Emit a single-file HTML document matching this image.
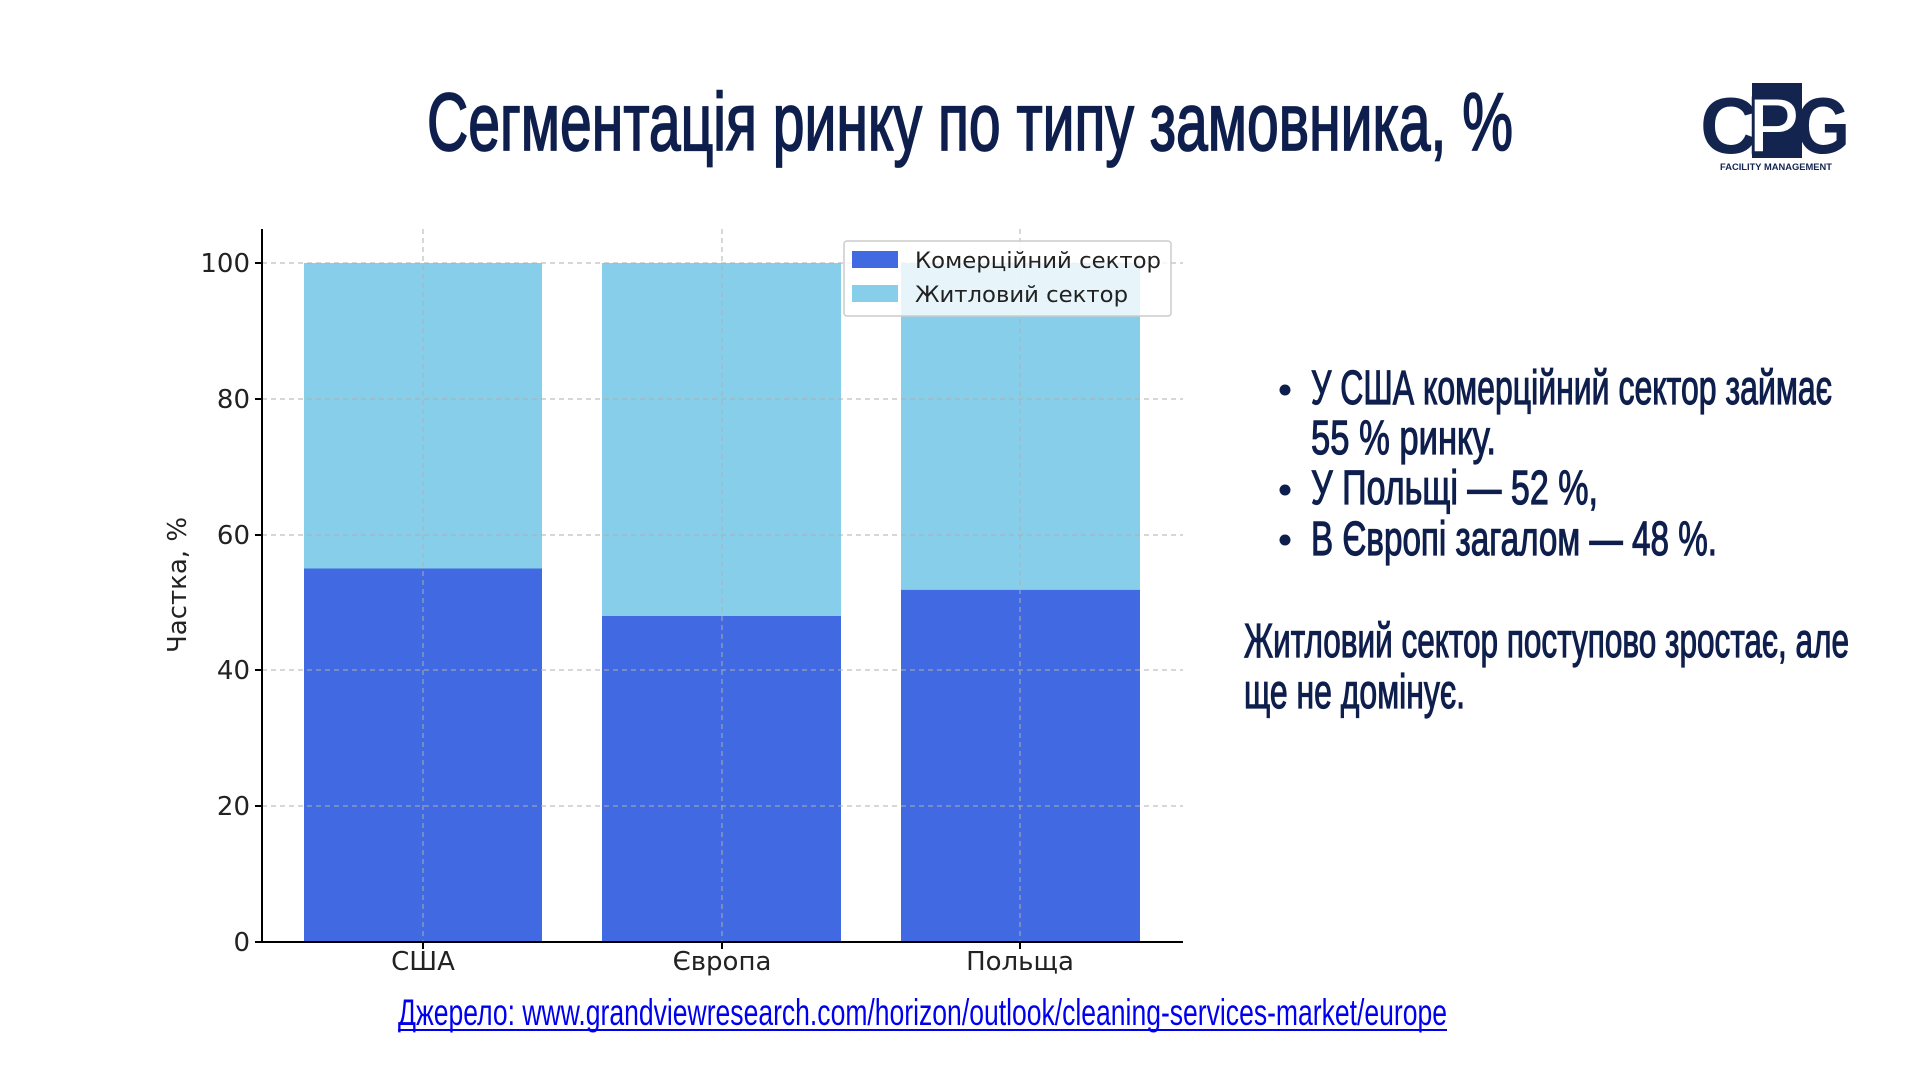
<!DOCTYPE html>
<html><head><meta charset="utf-8"><style>html,body{margin:0;padding:0;background:#fff}svg{display:block}</style></head><body>
<svg width="1920" height="1080" viewBox="0 0 1920 1080" xmlns="http://www.w3.org/2000/svg">
<rect width="1920" height="1080" fill="#fff"/>
<g font-family="Liberation Sans Narrow, Liberation Sans, sans-serif" fill="#0f1f4d" stroke="#0f1f4d">
<text x="427" y="150" font-size="82" stroke-width="1.8" textLength="1086" lengthAdjust="spacingAndGlyphs">Сегментація ринку по типу замовника, %</text>
<circle cx="1285" cy="390" r="5"/><circle cx="1285" cy="490" r="5"/><circle cx="1285" cy="540" r="5"/>
<g font-size="48" stroke-width="1.2">
<text x="1311" y="404" textLength="521" lengthAdjust="spacingAndGlyphs">У США комерційний сектор займає</text>
<text x="1311" y="454" textLength="185" lengthAdjust="spacingAndGlyphs">55 % ринку.</text>
<text x="1311" y="504" textLength="287" lengthAdjust="spacingAndGlyphs">У Польщі — 52 %,</text>
<text x="1311" y="555" textLength="406" lengthAdjust="spacingAndGlyphs">В Європі загалом — 48 %.</text>
<text x="1244" y="657" textLength="605" lengthAdjust="spacingAndGlyphs">Житловий сектор поступово зростає, але</text>
<text x="1244" y="708" textLength="221" lengthAdjust="spacingAndGlyphs">ще не домінує.</text>
</g>
</g>
<text x="398" y="1025" font-family="Liberation Sans Narrow, Liberation Sans, sans-serif" font-size="37" fill="#0000ee" textLength="1049" lengthAdjust="spacingAndGlyphs">Джерело: www.grandviewresearch.com/horizon/outlook/cleaning-services-market/europe</text>
<line x1="398" y1="1030" x2="1447" y2="1030" stroke="#0000ee" stroke-width="2"/>
<!-- logo -->
<g fill="#13244f" font-family="Liberation Sans, sans-serif" font-weight="bold">
<rect x="1752" y="83" width="50" height="85"/>
<text x="1700" y="153" font-size="80" textLength="58" lengthAdjust="spacingAndGlyphs">C</text>
<text x="1748" y="153" font-size="80" fill="#fff" stroke="#13244f" stroke-width="3" textLength="52" lengthAdjust="spacingAndGlyphs">P</text>
<text x="1796" y="153" font-size="80" textLength="54" lengthAdjust="spacingAndGlyphs">G</text>
<rect x="1718" y="158" width="116" height="14" fill="#fff"/>
<text x="1720" y="170" font-size="9" textLength="112" lengthAdjust="spacingAndGlyphs">FACILITY MANAGEMENT</text>
</g>
<!-- chart -->
<g>
<rect x="304" y="263" width="238" height="305.5" fill="#87ceeb"/>
<rect x="304" y="568.5" width="238" height="373.5" fill="#4169e1"/>
<rect x="602" y="263" width="239" height="353" fill="#87ceeb"/>
<rect x="602" y="616" width="239" height="326" fill="#4169e1"/>
<rect x="901" y="263" width="239" height="326.8" fill="#87ceeb"/>
<rect x="901" y="589.8" width="239" height="352.2" fill="#4169e1"/>
<g stroke="#b0b0b0" stroke-width="1.2" stroke-dasharray="5,4" opacity="0.8">
<line x1="262" y1="263" x2="1183" y2="263"/><line x1="262" y1="399" x2="1183" y2="399"/>
<line x1="262" y1="535" x2="1183" y2="535"/><line x1="262" y1="670" x2="1183" y2="670"/>
<line x1="262" y1="806" x2="1183" y2="806"/>
<line x1="423" y1="229" x2="423" y2="942"/><line x1="722" y1="229" x2="722" y2="942"/><line x1="1020" y1="229" x2="1020" y2="942"/>
</g>
<g stroke="#000" stroke-width="2">
<line x1="262" y1="229" x2="262" y2="943"/><line x1="261" y1="942" x2="1183" y2="942"/>
<line x1="255" y1="263" x2="262" y2="263"/><line x1="255" y1="399" x2="262" y2="399"/><line x1="255" y1="535" x2="262" y2="535"/><line x1="255" y1="670" x2="262" y2="670"/><line x1="255" y1="806" x2="262" y2="806"/><line x1="255" y1="942" x2="262" y2="942"/>
<line x1="423" y1="942" x2="423" y2="949"/><line x1="722" y1="942" x2="722" y2="949"/><line x1="1020" y1="942" x2="1020" y2="949"/>
</g>
<g font-family="DejaVu Sans, sans-serif" font-size="26" fill="#222" text-anchor="end">
<text x="250" y="272">100</text><text x="250" y="408">80</text><text x="250" y="544">60</text><text x="250" y="679">40</text><text x="250" y="815">20</text><text x="250" y="951">0</text>
</g>
<g font-family="DejaVu Sans, sans-serif" font-size="26" fill="#222" text-anchor="middle">
<text x="423" y="970">США</text><text x="722" y="970">Європа</text><text x="1020" y="970">Польща</text>
<text transform="translate(186,585) rotate(-90)">Частка, %</text>
</g>
<rect x="844" y="241" width="327" height="75" fill="#fff" fill-opacity="0.8" stroke="#ccc" stroke-width="1.5" rx="3"/>
<rect x="852" y="251" width="46" height="17" fill="#4169e1"/>
<rect x="852" y="285" width="46" height="17" fill="#87ceeb"/>
<g font-family="DejaVu Sans, sans-serif" font-size="22" fill="#222">
<text x="915" y="268" textLength="246" lengthAdjust="spacingAndGlyphs">Комерційний сектор</text>
<text x="915" y="302" textLength="213" lengthAdjust="spacingAndGlyphs">Житловий сектор</text>
</g>
</g>
</svg>
</body></html>
